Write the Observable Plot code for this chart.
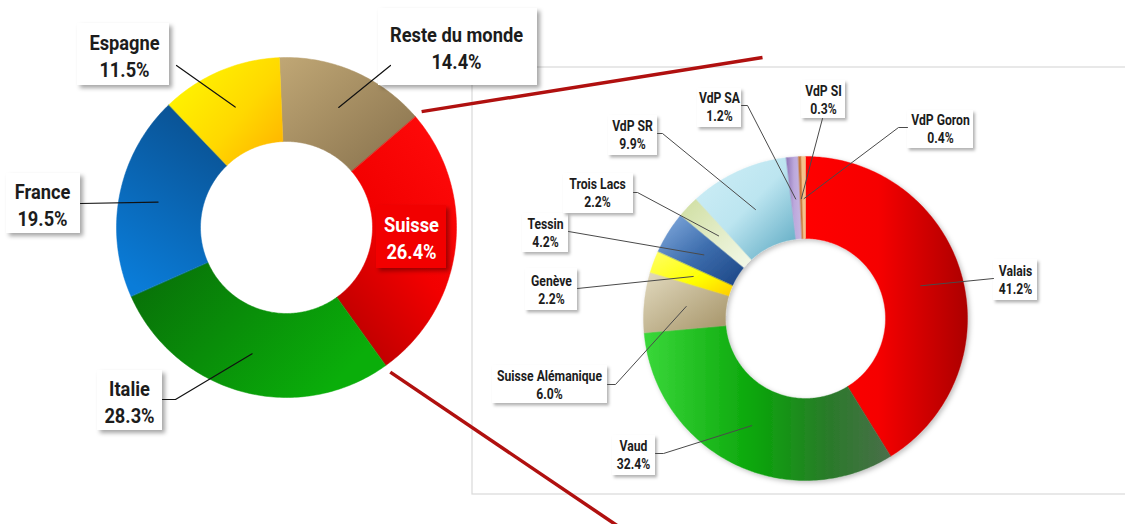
<!DOCTYPE html>
<html>
<head>
<meta charset="utf-8">
<script src="https://cdn.jsdelivr.net/npm/d3@7"></script>
<script src="https://cdn.jsdelivr.net/npm/@observablehq/plot@0.6"></script>
<style>
  body { margin: 0; background: #fff; }
  #chart svg { display: block; }
</style>
</head>
<body>
<div id="chart"></div>
<script>
// ---------- DATA ----------
const leftCategories = ["Reste du monde", "Suisse", "Italie", "France", "Espagne"];
const leftValues = [14.4, 26.4, 28.3, 19.5, 11.5];

const rightCategories = ["Valais", "Vaud", "Suisse Alémanique", "Genève", "Tessin", "Trois Lacs", "VdP SR", "VdP SA", "VdP SI", "VdP Goron"];
const rightValues = [41.2, 32.4, 6.0, 2.2, 4.2, 2.2, 9.9, 1.2, 0.3, 0.4];

// ---------- STYLE / LAYOUT ----------
const leftFills = ["url(#g-reste)", "url(#g-suisse)", "url(#g-italie)", "url(#g-france)", "url(#g-espagne)"];
const rightFills = ["url(#g-valais)", "url(#g-vaud)", "url(#g-sa)", "url(#g-geneve)", "url(#g-tessin)", "url(#g-troislacs)", "url(#g-vdpsr)", "url(#g-vdpsa)", "#c8783a", "#f5c28a"];

const W = 1125, H = 524;
const leftPie = {cx: 286, cy: 227, R: 170, r: 86, start: -2.4 * Math.PI / 180, leaderR: 0.77};
const rightPie = {cx: 805, cy: 318, R: 162, r: 80, start: 0, leaderR: 0.74};

// label boxes [x1, x2, y1, y2], text centers [x, y], leader start points
const leftBoxes = [[378, 537, 8, 85], [376, 446, 205, 268], [97, 162, 370, 430], [6, 80, 173, 233], [77, 169, 23, 85]];
const leftTextAt = [[456, 46], [411, 236], [129, 400], [42, 203], [124, 54]];
const leftLeaderFrom = [[[390, 65]], null, [[162, 399], [175, 399]], [[80, 203]], [[176, 65]]];

const rightBoxes = [[993, 1037, 259, 300], [612, 655, 435, 475], [492, 607, 365, 403], [525, 577, 268, 310], [522, 568, 213, 252], [563, 633, 173, 213], [608, 657, 115, 155], [697, 741, 88, 127], [801, 845, 80, 118], [907, 973, 110, 148]];
const rightTextAt = [[1015, 279], [633, 454], [549, 384], [551, 289], [545, 232], [597, 192], [632, 134], [719, 106], [823, 99], [940, 128]];
const rightLeaderFrom = [[[993, 278]], [[655, 453], [663, 453]], [[607, 384], [615, 384]], [[577, 288]], [[568, 231]], [[633, 192], [637, 192]], [[657, 133], [662, 133]], [[741, 105], [747, 105]], [[822, 118]], [[907, 127], [898, 127]]];

const panelFrame = [[472, 1132, 67, 494]];
const connectorEnds = [[762, 57], [618, 526]];

const FONT = "Roboto, 'DejaVu Sans Condensed', 'Liberation Sans', sans-serif";
const TEXT_SQUEEZE = 0.87;

// ---------- GEOMETRY FROM DATA ----------
function pieArcs(vals, p) {
  return d3.pie().sort(null).value(d => d).startAngle(p.start).endAngle(p.start + 2 * Math.PI)(vals);
}
function polar(p, rad, a) { return [p.cx + rad * Math.sin(a), p.cy - rad * Math.cos(a)]; }

function slicePoints(arcs, fills, p, prefix) {
  const pts = [];
  arcs.forEach((a, i) => {
    const n = Math.max(2, Math.ceil((a.endAngle - a.startAngle) / (Math.PI / 180)));
    for (let k = 0; k <= n; k++) {
      const t = a.startAngle + (a.endAngle - a.startAngle) * k / n;
      const [x, y] = polar(p, p.R, t);
      pts.push({key: prefix + i, fill: fills[i], x, y});
    }
    for (let k = n; k >= 0; k--) {
      const t = a.startAngle + (a.endAngle - a.startAngle) * k / n;
      const [x, y] = polar(p, p.r, t);
      pts.push({key: prefix + i, fill: fills[i], x, y});
    }
  });
  return pts;
}

function leaderPoints(arcs, from, p, prefix) {
  const pts = [];
  arcs.forEach((a, i) => {
    if (!from[i]) return;
    from[i].forEach(([x, y]) => pts.push({key: prefix + i, x, y}));
    const mid = (a.startAngle + a.endAngle) / 2;
    const [x, y] = polar(p, p.R * p.leaderR, mid);
    pts.push({key: prefix + i, x, y});
  });
  return pts;
}

function labelData(cats, vals, boxes, textAt) {
  return cats.map((c, i) => ({
    name: c,
    text: `${c}\n${vals[i].toFixed(1)}%`,
    x1: boxes[i][0], x2: boxes[i][1], y1: boxes[i][2], y2: boxes[i][3],
    tx: textAt[i][0], ty: textAt[i][1]
  }));
}

const leftArcs = pieArcs(leftValues, leftPie);
const rightArcs = pieArcs(rightValues, rightPie);

const leftSlices = slicePoints(leftArcs, leftFills, leftPie, "L");
const rightSlices = slicePoints(rightArcs, rightFills, rightPie, "R");
const leftLeaders = leaderPoints(leftArcs, leftLeaderFrom, leftPie, "L");
const rightLeaders = leaderPoints(rightArcs, rightLeaderFrom, rightPie, "R");

const leftLabels = labelData(leftCategories, leftValues, leftBoxes, leftTextAt);
const rightLabels = labelData(rightCategories, rightValues, rightBoxes, rightTextAt);
const suisseIdx = leftCategories.indexOf("Suisse");

// connector lines start at the boundaries of the "Suisse" slice, just outside the donut
const sA = leftArcs[suisseIdx];
const connectors = [];
[[sA.startAngle, connectorEnds[0]], [sA.endAngle, connectorEnds[1]]].forEach(([ang, end], i) => {
  const [x, y] = polar(leftPie, leftPie.R + 8, ang);
  connectors.push({key: "C" + i, x, y});
  connectors.push({key: "C" + i, x: end[0], y: end[1]});
});

const frame = panelFrame.map(d => ({x1: d[0], x2: d[1], y1: d[2], y2: d[3]}));

// ---------- PLOT ----------
const svg = Plot.plot({
  width: W, height: H,
  margin: 0,
  x: {domain: [0, W], range: [0, W], axis: null},
  y: {domain: [0, H], range: [0, H], axis: null},
  color: {type: "identity"},
  style: {background: "#fff", overflow: "hidden"},
  marks: [
    Plot.rect(frame, {x1: "x1", x2: "x2", y1: "y1", y2: "y2", fill: "none", stroke: "#d9d9d9", strokeWidth: 1.2}),
    Plot.line(connectors, {x: "x", y: "y", z: "key", stroke: "#b0100f", strokeWidth: 3.5, strokeLinecap: "butt"}),
    Plot.line(leftSlices, {x: "x", y: "y", z: "key", fill: "fill", stroke: "fill", strokeWidth: 0.5, curve: "linear-closed"}),
    Plot.line(rightSlices, {x: "x", y: "y", z: "key", fill: "fill", stroke: "fill", strokeWidth: 0.4, curve: "linear-closed", ariaDescription: "right-slices"}),
    // label boxes
    Plot.rect(leftLabels.filter(d => d.name !== "Suisse"), {x1: "x1", x2: "x2", y1: "y1", y2: "y2", fill: "#ffffff", ariaDescription: "box-left"}),
    Plot.rect(leftLabels.filter(d => d.name === "Suisse"), {x1: "x1", x2: "x2", y1: "y1", y2: "y2", fill: "#f20202", ariaDescription: "box-suisse"}),
    Plot.rect(rightLabels, {x1: "x1", x2: "x2", y1: "y1", y2: "y2", fill: "#ffffff", ariaDescription: "box-right"}),
    // leaders
    Plot.line(leftLeaders, {x: "x", y: "y", z: "key", stroke: "#111", strokeWidth: 1.2}),
    Plot.line(rightLeaders, {x: "x", y: "y", z: "key", stroke: "#4a4a4a", strokeWidth: 1}),
    // texts
    Plot.text(leftLabels.filter(d => d.name !== "Suisse"), {x: "tx", y: "ty", text: "text", fontSize: 21, fontWeight: "bold", fontFamily: FONT, lineHeight: 1.28, fill: "#1c1c1c", ariaDescription: "label-text"}),
    Plot.text(leftLabels.filter(d => d.name === "Suisse"), {x: "tx", y: "ty", text: "text", fontSize: 21, fontWeight: "bold", fontFamily: FONT, lineHeight: 1.28, fill: "#ffffff", ariaDescription: "label-text"}),
    Plot.text(rightLabels, {x: "tx", y: "ty", text: "text", fontSize: 14, fontWeight: "bold", fontFamily: FONT, lineHeight: 1.28, fill: "#1c1c1c", ariaDescription: "label-text"})
  ]
});

d3.select(svg).insert("defs", ":first-child").html(`
  <linearGradient id="g-reste" x1="0" y1="0" x2="1" y2="1">
    <stop offset="0" stop-color="#c0a775"/><stop offset="1" stop-color="#86704c"/>
  </linearGradient>
  <linearGradient id="g-suisse" x1="0.8" y1="0" x2="0.2" y2="1">
    <stop offset="0" stop-color="#ff0a0a"/><stop offset="0.5" stop-color="#f20000"/><stop offset="1" stop-color="#b80000"/>
  </linearGradient>
  <linearGradient id="g-italie" x1="0" y1="0" x2="1" y2="0.5">
    <stop offset="0" stop-color="#086c08"/><stop offset="1" stop-color="#0aae0a"/>
  </linearGradient>
  <linearGradient id="g-france" x1="0.7" y1="0" x2="0.3" y2="1">
    <stop offset="0" stop-color="#0a5090"/><stop offset="1" stop-color="#0a7cd8"/>
  </linearGradient>
  <linearGradient id="g-espagne" x1="0" y1="0.2" x2="1" y2="1">
    <stop offset="0" stop-color="#fff700"/><stop offset="0.55" stop-color="#ffd800"/><stop offset="1" stop-color="#ffae00"/>
  </linearGradient>
  <linearGradient id="g-valais" x1="0" y1="0" x2="1" y2="0">
    <stop offset="0" stop-color="#ff0000"/><stop offset="0.45" stop-color="#f60000"/><stop offset="1" stop-color="#ac0000"/>
  </linearGradient>
  <linearGradient id="g-vaud" x1="0" y1="0" x2="1" y2="0">
    <stop offset="0" stop-color="#3ad83a"/><stop offset="0.45" stop-color="#0aa50a"/><stop offset="0.75" stop-color="#2a7a2a"/><stop offset="1" stop-color="#4a6e4a"/>
  </linearGradient>
  <linearGradient id="g-sa" x1="0" y1="0" x2="1" y2="1">
    <stop offset="0" stop-color="#e2dabf"/><stop offset="1" stop-color="#a49266"/>
  </linearGradient>
  <linearGradient id="g-geneve" x1="0" y1="0" x2="1" y2="1">
    <stop offset="0" stop-color="#ffff66"/><stop offset="0.6" stop-color="#ffff00"/><stop offset="1" stop-color="#ffcc00"/>
  </linearGradient>
  <linearGradient id="g-tessin" x1="0" y1="0" x2="1" y2="1">
    <stop offset="0" stop-color="#86aee0"/><stop offset="0.5" stop-color="#3e6eae"/><stop offset="1" stop-color="#1a4484"/>
  </linearGradient>
  <linearGradient id="g-troislacs" x1="0" y1="0" x2="1" y2="1">
    <stop offset="0" stop-color="#cfdea0"/><stop offset="1" stop-color="#f4f9ea"/>
  </linearGradient>
  <linearGradient id="g-vdpsr" x1="0" y1="0" x2="1" y2="1">
    <stop offset="0" stop-color="#d0eff7"/><stop offset="0.5" stop-color="#bce5f0"/><stop offset="1" stop-color="#58a6c0"/>
  </linearGradient>
  <linearGradient id="g-vdpsa" x1="0" y1="0" x2="1" y2="0">
    <stop offset="0" stop-color="#8e76b6"/><stop offset="0.5" stop-color="#bca8dc"/><stop offset="1" stop-color="#c8b8e2"/>
  </linearGradient>
  <filter id="box-shadow" x="-30%" y="-30%" width="170%" height="180%">
    <feDropShadow dx="3" dy="3" stdDeviation="2" flood-color="#000" flood-opacity="0.35"/>
  </filter>
  <filter id="box-shadow-sm" x="-30%" y="-30%" width="170%" height="180%">
    <feDropShadow dx="2" dy="2.5" stdDeviation="1.6" flood-color="#000" flood-opacity="0.3"/>
  </filter>
  <filter id="donut-shadow" x="-10%" y="-10%" width="125%" height="125%">
    <feDropShadow dx="2" dy="2" stdDeviation="2.5" flood-color="#000" flood-opacity="0.25"/>
  </filter>
`);

function setFilter(desc, id) {
  svg.querySelectorAll(`g[aria-description="${desc}"] > *`).forEach(el => el.setAttribute("filter", `url(#${id})`));
}
setFilter("box-left", "box-shadow");
setFilter("box-suisse", "box-shadow");
setFilter("box-right", "box-shadow-sm");
const rs = svg.querySelector('g[aria-description="right-slices"]');
if (rs) rs.setAttribute("filter", "url(#donut-shadow)");

// narrow the label lettering horizontally (condensed look of the original font)
svg.querySelectorAll('g[aria-description="label-text"] text').forEach(t => {
  let tr = t.getAttribute("transform");
  if (!tr) {
    const x = +t.getAttribute("x") || 0, y = +t.getAttribute("y") || 0;
    t.removeAttribute("x"); t.removeAttribute("y");
    tr = `translate(${x},${y})`;
  }
  t.setAttribute("transform", `${tr} scale(${TEXT_SQUEEZE},1)`);
});

document.getElementById("chart").appendChild(svg);
</script>
</body>
</html>
